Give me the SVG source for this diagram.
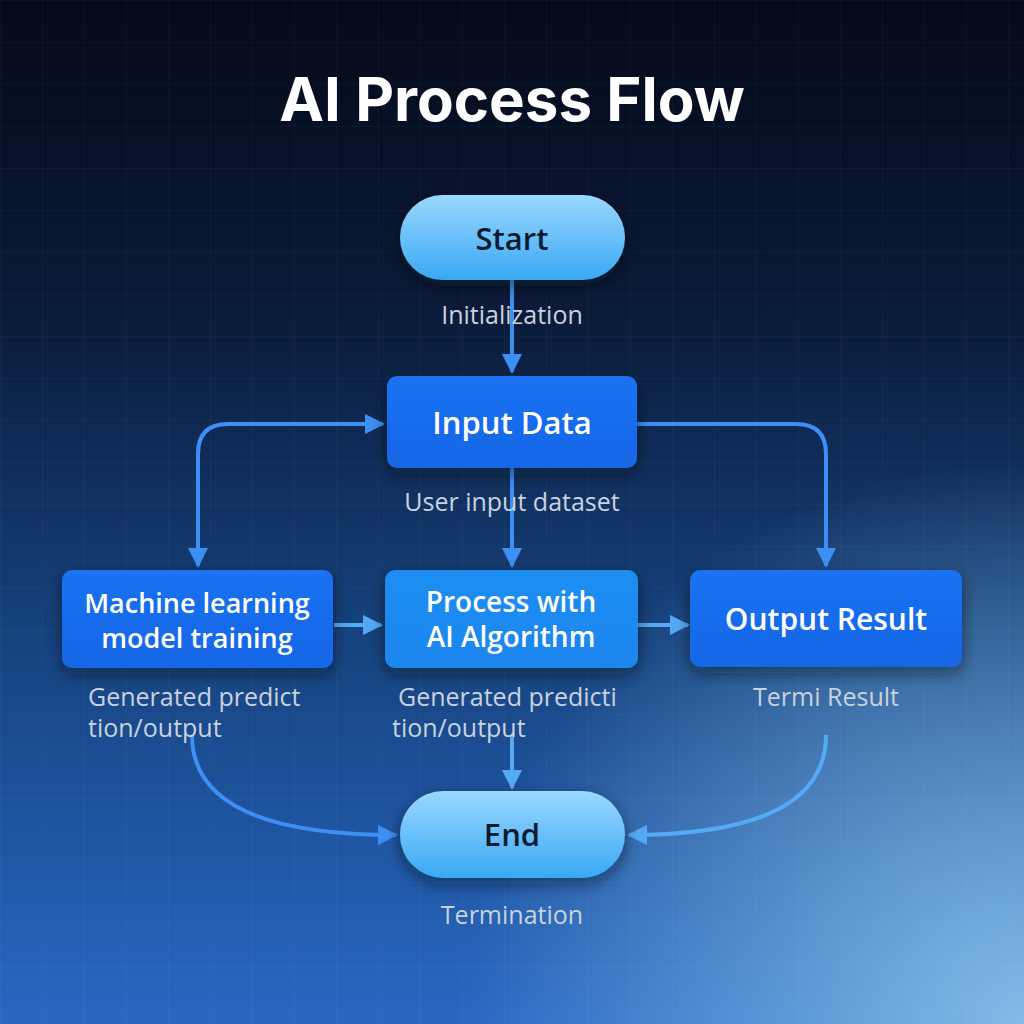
<svg xmlns="http://www.w3.org/2000/svg" width="1024" height="1024" viewBox="0 0 1024 1024">
<defs>
<linearGradient id="bg" x1="0" y1="0" x2="0" y2="1">
<stop offset="0" stop-color="#040a18"/>
<stop offset="0.3" stop-color="#0a1a38"/>
<stop offset="0.6" stop-color="#15407a"/>
<stop offset="1" stop-color="#2868c4"/>
</linearGradient>
<radialGradient id="glow" cx="1" cy="1" r="0.55">
<stop offset="0" stop-color="#8cc4ea" stop-opacity="0.9"/>
<stop offset="1" stop-color="#8cc4ea" stop-opacity="0"/>
</radialGradient>
<pattern id="grid" width="42" height="42" patternUnits="userSpaceOnUse">
<path d="M42 0H0V42" fill="none" stroke="#ffffff" stroke-opacity="0.05" stroke-width="1"/>
</pattern>
<linearGradient id="pill" x1="0" y1="0" x2="0" y2="1">
<stop offset="0" stop-color="#9ad8ff"/>
<stop offset="1" stop-color="#3aa8f5"/>
</linearGradient>
<linearGradient id="boxA" x1="0" y1="0" x2="0" y2="1">
<stop offset="0" stop-color="#1a72f2"/>
<stop offset="1" stop-color="#1666e6"/>
</linearGradient>
<linearGradient id="boxB" x1="0" y1="0" x2="0" y2="1">
<stop offset="0" stop-color="#1c8ef2"/>
<stop offset="1" stop-color="#1b86ee"/>
</linearGradient>
<marker id="ah" viewBox="0 0 10 10" refX="9" refY="5" markerWidth="5" markerHeight="5" orient="auto-start-reverse" markerUnits="strokeWidth">
<path d="M0 0L10 5L0 10z" fill="#3d8ef5"/>
</marker>
<marker id="ahL" viewBox="0 0 10 10" refX="9" refY="5" markerWidth="5" markerHeight="5" orient="auto" markerUnits="strokeWidth">
<path d="M0 0L10 5L0 10z" fill="#55aaf5"/>
</marker>
<filter id="sh" x="-20%" y="-20%" width="140%" height="160%">
<feDropShadow dx="0" dy="6" stdDeviation="8" flood-color="#000814" flood-opacity="0.5"/>
</filter>
</defs>
<style>
.title{font-family:Inter,"Open Sans",sans-serif;font-weight:700;font-size:60px;fill:#ffffff}
.dark{font-family:"Open Sans",Lato,sans-serif;font-weight:600;font-size:31px;fill:#0a1a30}
.white{font-family:"Open Sans",Lato,sans-serif;font-weight:600;fill:#ffffff}
.lbl{font-family:"Open Sans",Lato,sans-serif;font-size:25px;fill:#c9d2de}
.ln{fill:none;stroke:#3d8ef5;stroke-width:4}
.lnL{fill:none;stroke:#55aaf5;stroke-width:4}
</style>
<rect width="1024" height="1024" fill="url(#bg)"/>
<rect width="1024" height="1024" fill="url(#glow)"/>
<rect width="1024" height="1024" fill="url(#grid)"/>
<text class="title" x="512" y="121" text-anchor="middle">AI Process Flow</text>

<g id="connectors">
<path class="ln" d="M512 280V372" marker-end="url(#ah)"/>
<path class="ln" d="M512 468V566" marker-end="url(#ah)"/>
<path class="ln" d="M198 566V454Q198 424 228 424H383" marker-start="url(#ah)" marker-end="url(#ah)"/>
<path class="ln" d="M637 424H796Q826 424 826 454V566" marker-end="url(#ah)"/>
<path class="lnL" d="M334 625H381" marker-end="url(#ahL)"/>
<path class="lnL" d="M638 625H688" marker-end="url(#ahL)"/>
<path class="ln" d="M192 735Q192 835 396 835" marker-end="url(#ah)"/>
<path class="lnL" d="M512 735V788" marker-end="url(#ahL)"/>
<path class="lnL" d="M826 735Q826 835 629 835" marker-end="url(#ahL)"/>
</g>

<g id="start">
<rect x="400" y="195" width="225" height="85" rx="42.5" fill="url(#pill)" filter="url(#sh)"/>
<text class="dark" x="512" y="250" text-anchor="middle">Start</text>
<text class="lbl" x="512" y="324" text-anchor="middle">Initialization</text>
</g>

<g id="input">
<rect x="387" y="376" width="250" height="92" rx="10" fill="url(#boxA)" filter="url(#sh)"/>
<text class="white" x="512" y="434" font-size="31" text-anchor="middle">Input Data</text>
<text class="lbl" x="512" y="511" text-anchor="middle">User input dataset</text>
</g>

<g id="ml">
<rect x="62" y="570" width="271" height="98" rx="10" fill="url(#boxA)" filter="url(#sh)"/>
<text class="white" x="197" y="613" font-size="27" text-anchor="middle">Machine learning</text>
<text class="white" x="197" y="648" font-size="27" text-anchor="middle">model training</text>
<text class="lbl" x="88" y="706">Generated predict</text>
<text class="lbl" x="88" y="737">tion/output</text>
</g>

<g id="process">
<rect x="385" y="570" width="253" height="98" rx="10" fill="url(#boxB)" filter="url(#sh)"/>
<text class="white" x="511" y="612" font-size="28" text-anchor="middle">Process with</text>
<text class="white" x="511" y="647" font-size="28" text-anchor="middle">AI Algorithm</text>
<text class="lbl" x="398" y="706">Generated predicti</text>
<text class="lbl" x="392" y="737">tion/output</text>
</g>

<g id="output">
<rect x="690" y="570" width="272" height="97" rx="10" fill="url(#boxA)" filter="url(#sh)"/>
<text class="white" x="826" y="630" font-size="30" text-anchor="middle">Output Result</text>
<text class="lbl" x="826" y="706" text-anchor="middle">Termi  Result</text>
</g>

<g id="end">
<rect x="400" y="791" width="225" height="87" rx="43.5" fill="url(#pill)" filter="url(#sh)"/>
<text class="dark" x="512" y="846" text-anchor="middle">End</text>
<text class="lbl" x="512" y="924" text-anchor="middle">Termination</text>
</g>
</svg>
